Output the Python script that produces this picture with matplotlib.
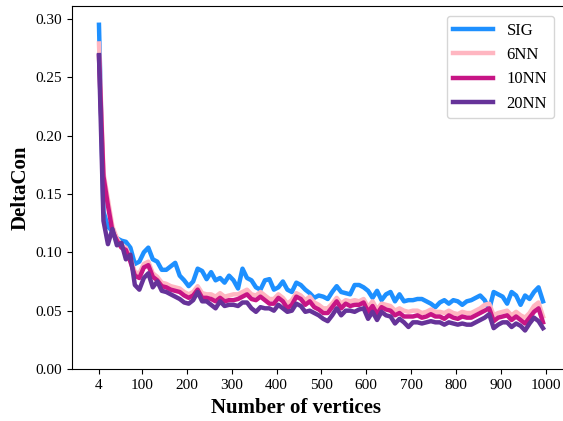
import numpy as np
import matplotlib
matplotlib.use('Agg')
import matplotlib.pyplot as plt

plt.rcParams['font.family'] = ['Liberation Serif', 'DejaVu Serif']

# number of vertices (x axis)
vertices = [4, 14, 24, 34, 44, 54, 64, 74, 84, 94,
            104, 114, 124, 134, 144, 154, 164, 174, 184, 194,
            204, 214, 224, 234, 244, 254, 264, 274, 284, 294,
            304, 314, 324, 334, 344, 354, 364, 374, 384, 394,
            404, 414, 424, 434, 444, 454, 464, 474, 484, 494,
            504, 514, 524, 534, 544, 554, 564, 574, 584, 594,
            604, 614, 624, 634, 644, 654, 664, 674, 684, 694,
            704, 714, 724, 734, 744, 754, 764, 774, 784, 794,
            804, 814, 824, 834, 844, 854, 864, 874, 884, 894,
            904, 914, 924, 934, 944, 954, 964, 974, 984, 994]

sig = [.295, .135, .122, .118, .112, .110, .109, .104, .090, .092,
       .100, .104, .094, .092, .085, .085, .088, .091, .080, .076,
       .071, .075, .086, .084, .077, .083, .076, .078, .074, .080,
       .076, .069, .086, .078, .076, .070, .068, .076, .077, .068,
       .070, .075, .068, .066, .074, .072, .068, .065, .061, .063,
       .062, .060, .066, .071, .066, .065, .064, .072, .072, .070,
       .067, .061, .067, .059, .064, .066, .058, .064, .058, .059,
       .059, .060, .060, .058, .056, .053, .057, .059, .056, .059,
       .058, .055, .058, .059, .061, .063, .059, .051, .066, .064,
       .062, .056, .066, .063, .055, .063, .060, .066, .070, .058]

nn6 = [.279, .168, .145, .122, .112, .106, .104, .095, .083, .082,
       .090, .092, .082, .079, .074, .073, .071, .070, .069, .066,
       .064, .066, .071, .065, .064, .064, .062, .065, .062, .063,
       .064, .064, .066, .068, .064, .063, .066, .063, .060, .060,
       .064, .061, .056, .059, .065, .063, .059, .062, .057, .055,
       .052, .052, .056, .061, .056, .059, .058, .059, .058, .060,
       .053, .058, .051, .056, .055, .054, .050, .052, .050, .049,
       .050, .050, .048, .049, .051, .049, .049, .048, .050, .048,
       .047, .049, .048, .048, .050, .052, .055, .056, .046, .048,
       .049, .050, .046, .049, .046, .044, .048, .054, .057, .045]

nn10 = [.268, .165, .140, .118, .110, .104, .102, .092, .080, .078,
        .087, .089, .079, .076, .071, .070, .068, .067, .066, .063,
        .061, .063, .068, .061, .061, .060, .058, .061, .058, .059,
        .059, .060, .062, .064, .060, .059, .062, .059, .056, .056,
        .061, .058, .052, .055, .062, .060, .055, .058, .053, .051,
        .048, .048, .053, .058, .052, .056, .054, .055, .055, .057,
        .049, .054, .047, .053, .051, .050, .046, .048, .045, .045,
        .045, .046, .044, .045, .047, .045, .045, .043, .046, .044,
        .043, .045, .044, .044, .046, .048, .050, .052, .041, .044,
        .045, .046, .042, .045, .042, .039, .044, .049, .052, .040]

nn20 = [.269, .127, .107, .120, .106, .108, .094, .098, .072, .068,
        .078, .082, .070, .075, .067, .066, .064, .062, .060, .057,
        .056, .059, .066, .058, .058, .055, .052, .058, .054, .055,
        .055, .054, .057, .057, .052, .049, .053, .052, .052, .050,
        .055, .052, .049, .050, .056, .054, .049, .050, .048, .046,
        .043, .041, .046, .052, .046, .050, .050, .049, .051, .052,
        .043, .049, .042, .049, .046, .045, .039, .043, .040, .036,
        .040, .040, .039, .040, .041, .040, .040, .038, .040, .039,
        .038, .039, .038, .038, .040, .042, .044, .047, .035, .038,
        .040, .040, .036, .039, .037, .033, .039, .044, .041, .035]

xticks = [4, 100, 200, 300, 400, 500, 600, 700, 800, 900, 1000]
yticks = [0.00, 0.05, 0.10, 0.15, 0.20, 0.25, 0.30]

fig = plt.figure(figsize=(5.63, 4.21), dpi=100)
# right edge of the axes sits past the figure edge (reference is cropped)
ax = fig.add_axes([0.128, 0.1235, 0.905, 0.862])
ax.spines['right'].set_visible(False)

ax.plot(vertices, sig, color='#1E90FF', lw=3.2, label='SIG')
ax.plot(vertices, nn6, color='#FFB6C1', lw=3.2, label='6NN')
ax.plot(vertices, nn10, color='#C71585', lw=3.2, label='10NN')
ax.plot(vertices, nn20, color='#663399', lw=3.2, label='20NN')

ax.set_xlim(-56, 1080)
ax.set_ylim(0, 0.311)
ax.set_xticks(xticks)
ax.set_xticklabels([str(t) for t in xticks])
ax.set_yticks(yticks)
ax.set_yticklabels(['%.2f' % t for t in yticks])
ax.tick_params(labelsize=11)

ax.set_xlabel('Number of vertices', fontsize=15, fontweight='bold')
ax.xaxis.set_label_coords(0.44, -0.08)
ax.set_ylabel('DeltaCon', fontsize=15, fontweight='bold')

ax.legend(loc='upper right', bbox_to_anchor=(554 / 563, 1 - 16 / 421),
          bbox_transform=fig.transFigure, fontsize=12, borderaxespad=0,
          handlelength=2.4)

fig.savefig('out.png', dpi=100)
